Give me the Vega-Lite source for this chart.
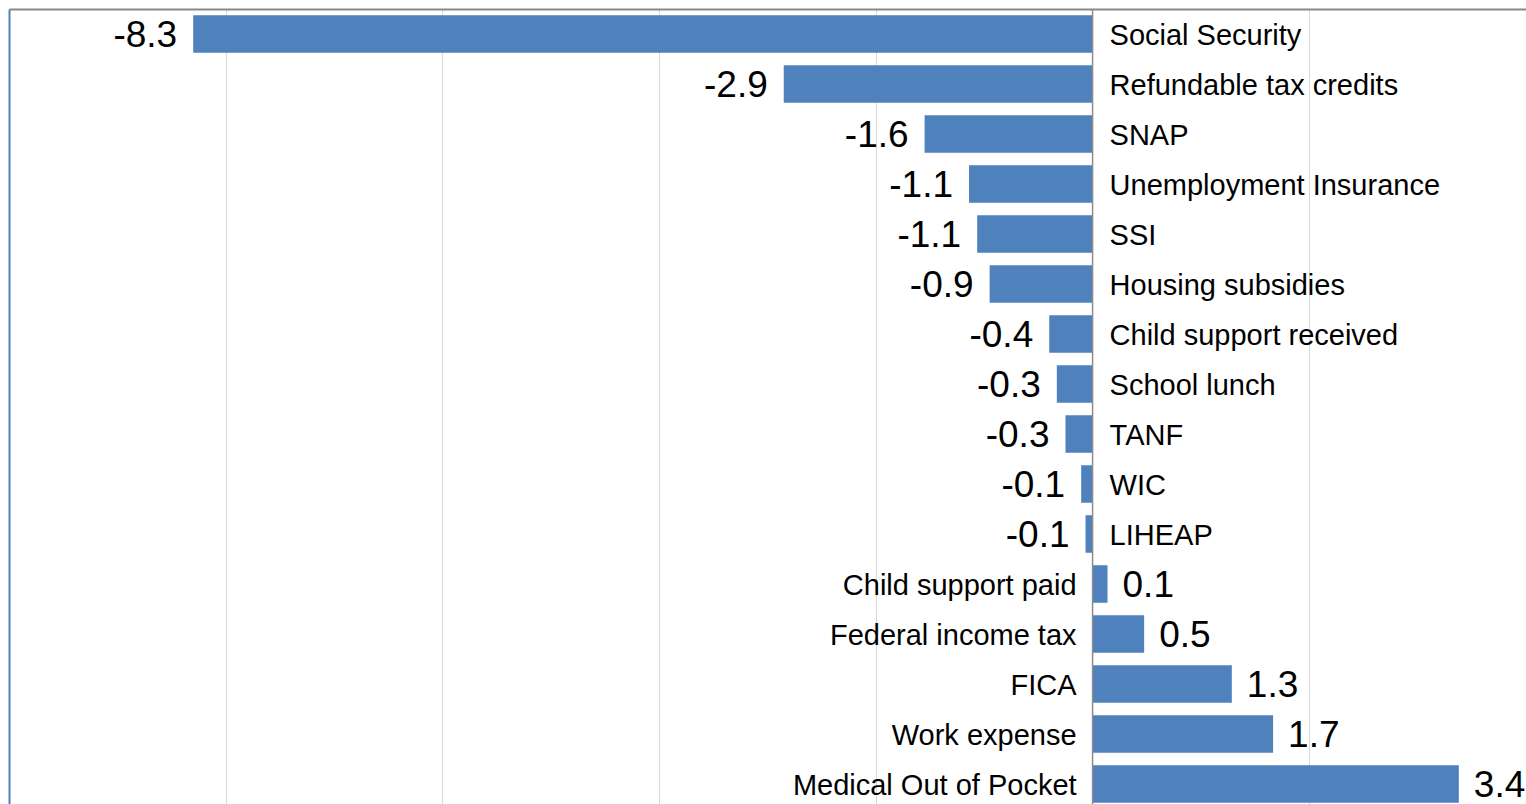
{
  "$schema": "https://vega.github.io/schema/vega-lite/v6.json",
  "width": 1517,
  "height": 795,
  "autosize": {"type": "none"},
  "padding": {"left": 9, "top": 9, "right": 0, "bottom": 0},
  "background": "white",
  "config": {"view": {"stroke": null}, "font": "Liberation Sans"},
  "data": {
    "values": [
      {"name": "Social Security", "value": -8.3, "label": "-8.3"},
      {"name": "Refundable tax credits", "value": -2.85, "label": "-2.9"},
      {"name": "SNAP", "value": -1.55, "label": "-1.6"},
      {"name": "Unemployment Insurance", "value": -1.14, "label": "-1.1"},
      {"name": "SSI", "value": -1.065, "label": "-1.1"},
      {"name": "Housing subsidies", "value": -0.95, "label": "-0.9"},
      {"name": "Child support received", "value": -0.40, "label": "-0.4"},
      {"name": "School lunch", "value": -0.33, "label": "-0.3"},
      {"name": "TANF", "value": -0.25, "label": "-0.3"},
      {"name": "WIC", "value": -0.105, "label": "-0.1"},
      {"name": "LIHEAP", "value": -0.065, "label": "-0.1"},
      {"name": "Child support paid", "value": 0.138, "label": "0.1"},
      {"name": "Federal income tax", "value": 0.476, "label": "0.5"},
      {"name": "FICA", "value": 1.285, "label": "1.3"},
      {"name": "Work expense", "value": 1.666, "label": "1.7"},
      {"name": "Medical Out of Pocket", "value": 3.38, "label": "3.4"}
    ]
  },
  "layer": [
    {
      "mark": {"type": "bar", "color": "#4F81BD"},
      "encoding": {
        "y": {
          "field": "name", "type": "nominal", "sort": null,
          "scale": {"range": [0, 800], "paddingInner": 0.25, "paddingOuter": 0.125},
          "axis": {"orient": "left", "labels": false, "ticks": false, "title": null, "grid": false, "domain": true, "domainColor": "#4F81BD", "domainWidth": 2}
        },
        "x": {
          "field": "value", "type": "quantitative",
          "scale": {"domain": [-10, 4], "nice": false, "zero": false},
          "axis": {"orient": "top", "labels": false, "ticks": false, "title": null, "domain": true, "domainColor": "#888888", "domainWidth": 2, "grid": true, "gridColor": "#D9D9D9", "gridWidth": 1, "values": [-8, -6, -4, -2, 2]}
        }
      }
    },
    {
      "data": {"values": [{}]},
      "mark": {"type": "rule", "color": "#8C8C8C", "strokeWidth": 1.5},
      "encoding": {
        "x": {"datum": 0, "type": "quantitative", "scale": {"domain": [-10, 4], "nice": false, "zero": false}}
      }
    },
    {
      "transform": [{"filter": "datum.value < 0"}],
      "mark": {"type": "text", "align": "right", "baseline": "middle", "dx": -16, "dy": 2, "fontSize": 37, "color": "#000000"},
      "encoding": {
        "y": {"field": "name", "type": "nominal", "sort": null},
        "x": {"field": "value", "type": "quantitative", "scale": {"domain": [-10, 4], "nice": false, "zero": false}},
        "text": {"field": "label"}
      }
    },
    {
      "transform": [{"filter": "datum.value >= 0"}],
      "mark": {"type": "text", "align": "left", "baseline": "middle", "dx": 15, "dy": 2, "fontSize": 37, "color": "#000000"},
      "encoding": {
        "y": {"field": "name", "type": "nominal", "sort": null},
        "x": {"field": "value", "type": "quantitative", "scale": {"domain": [-10, 4], "nice": false, "zero": false}},
        "text": {"field": "label"}
      }
    },
    {
      "transform": [{"filter": "datum.value < 0"}],
      "mark": {"type": "text", "align": "left", "baseline": "middle", "dx": 17, "dy": 2, "fontSize": 29, "color": "#000000"},
      "encoding": {
        "y": {"field": "name", "type": "nominal", "sort": null},
        "x": {"datum": 0, "type": "quantitative", "scale": {"domain": [-10, 4], "nice": false, "zero": false}},
        "text": {"field": "name"}
      }
    },
    {
      "transform": [{"filter": "datum.value >= 0"}],
      "mark": {"type": "text", "align": "right", "baseline": "middle", "dx": -16, "dy": 2, "fontSize": 29, "color": "#000000"},
      "encoding": {
        "y": {"field": "name", "type": "nominal", "sort": null},
        "x": {"datum": 0, "type": "quantitative", "scale": {"domain": [-10, 4], "nice": false, "zero": false}},
        "text": {"field": "name"}
      }
    }
  ]
}
